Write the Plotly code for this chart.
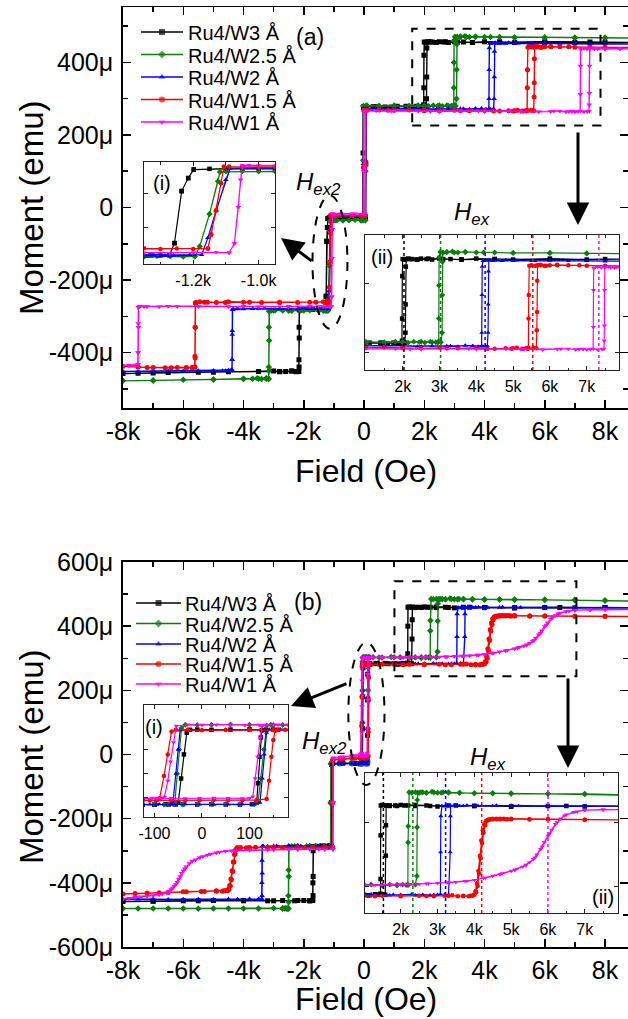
import plotly.graph_objects as go

# ---------------- data (field in Oe, moment in micro-emu) ----------------
names = ["Ru4/W3 Å", "Ru4/W2.5 Å", "Ru4/W2 Å", "Ru4/W1.5 Å", "Ru4/W1 Å"]
colors = ["#000000", "#0b7d0b", "#0000ff", "#ff0000", "#ff00ff"]
symbols = ["square", "diamond", "triangle-up", "circle", "triangle-down"]

x_tick_vals = [-8000, -6000, -4000, -2000, 0, 2000, 4000, 6000, 8000]
x_tick_text = ["-8k", "-6k", "-4k", "-2k", "0", "2k", "4k", "6k", "8k"]
ya_tick_vals = [-400, -200, 0, 200, 400]
ya_tick_text = ["-400μ", "-200μ", "0", "200μ", "400μ"]
yb_tick_vals = [-600, -400, -200, 0, 200, 400, 600]
yb_tick_text = ["-600μ", "-400μ", "-200μ", "0", "200μ", "400μ", "600μ"]
ins_ii_vals = [2000, 3000, 4000, 5000, 6000, 7000]
ins_ii_text = ["2k", "3k", "4k", "5k", "6k", "7k"]
ins_ai_vals = [-1200, -1000]
ins_ai_text = ["-1.2k", "-1.0k"]
ins_bi_vals = [-100, 0, 100]
ins_bi_text = ["-100", "0", "100"]

# exchange fields marked by dotted lines in insets (ii)
a_hex = [2035, 3030, 4240, 5535, 7330]
b_hex = [1530, 2330, 3220, 4200, 6000]

# ---- panel (a) loops ----
a_w3 = [(9000,455),(8000,456),(7000,455),(6000,457),(5000,455),(4500,456),(4000,457),(3600,455),(3300,456),(3000,457),(2800,455),(2650,456),(2500,457),(2380,455),(2260,456),(2150,457),(2060,455),(2000,456),(1990,420),(1985,330),(1980,283),(1940,278),(1860,277),(1750,279),(1600,277),(1400,278),(1100,279),(700,277),(300,278),(-20,278),(-30,150),(-40,-28),(-300,-28),(-600,-29),(-900,-27),(-950,-28),(-1000,-29),(-1050,-28),(-1100,-27),(-1150,-28),(-1198,-30),(-1215,-55),(-1235,-93),(-1257,-245),(-1272,-280),(-1300,-281),(-1330,-280),(-1360,-279),(-1500,-280),(-1700,-281),(-1900,-280),(-2050,-279),(-2120,-280),(-2145,-282),(-2150,-360),(-2155,-440),(-2165,-452),(-2250,-453),(-2400,-451),(-2600,-452),(-2800,-453),(-3000,-451),(-3500,-452),(-4500,-453),(-5500,-454),(-6500,-455),(-7500,-457),(-8000,-458),
        (-7000,-456),(-5000,-454),(-3500,-452),(-2800,-452),(-2400,-451),(-2250,-452),(-2170,-452),(-2160,-420),(-2155,-330),(-2150,-282),(-2050,-280),(-1800,-280),(-1500,-281),(-1272,-280),(-1257,-245),(-1235,-93),(-1215,-55),(-1198,-30),(-1100,-28),(-800,-28),(-400,-27),(-100,-28),(50,-28),(60,120),(70,278),(400,278),(900,277),(1400,279),(1800,278),(1950,277),(2030,278),(2060,279),(2075,300),(2080,360),(2085,440),(2095,456),(2200,456),(2400,455),(2700,457),(3100,456),(3600,455),(4500,456),(6000,455),(7500,456),(9000,455)]

a_w25 = [(9000,467),(8000,468),(7000,468),(6000,469),(5000,469),(4500,470),(4000,470),(3700,471),(3500,470),(3350,472),(3200,471),(3100,470),(3020,471),(2990,460),(2985,400),(2982,330),(2980,282),(2900,280),(2750,281),(2600,279),(2450,280),(2300,281),(2150,279),(2000,280),(1800,281),(1500,280),(1000,279),(500,280),(100,281),(-25,280),(-30,130),(-35,-35),(-300,-34),(-700,-36),(-950,-35),(-1000,-36),(-1050,-35),(-1100,-36),(-1118,-37),(-1124,-64),(-1150,-160),(-1180,-255),(-1195,-284),(-1230,-285),(-1270,-284),(-1310,-283),(-1350,-285),(-1500,-284),(-1800,-283),(-2100,-284),(-2400,-285),(-2700,-284),(-2950,-283),(-3080,-284),(-3140,-286),(-3150,-367),(-3155,-450),(-3165,-473),(-3250,-472),(-3400,-473),(-3550,-471),(-3700,-472),(-4000,-472),(-5000,-474),(-6000,-475),(-7000,-477),(-8000,-478),
         (-7000,-477),(-5000,-474),(-4000,-473),(-3500,-472),(-3250,-471),(-3170,-472),(-3160,-440),(-3155,-330),(-3150,-286),(-3000,-284),(-2500,-285),(-2000,-284),(-1500,-284),(-1195,-284),(-1180,-255),(-1150,-160),(-1124,-64),(-1118,-37),(-900,-35),(-500,-35),(-100,-36),(45,-35),(50,100),(55,280),(500,280),(1000,281),(1500,279),(2000,280),(2500,281),(2800,280),(2950,279),(3040,280),(3070,300),(3075,380),(3080,450),(3090,470),(3200,471),(3400,470),(3700,471),(4200,470),(5000,469),(6000,469),(7000,468),(8000,468),(9000,467)]

a_w2 = [(9000,451),(8000,452),(7000,452),(6000,453),(5500,452),(5000,453),(4800,454),(4600,453),(4450,452),(4350,454),(4250,453),(4180,452),(4160,440),(4155,380),(4150,300),(4145,272),(4050,271),(3900,272),(3700,273),(3500,271),(3200,272),(2800,272),(2400,271),(2000,272),(1500,273),(1000,272),(500,271),(100,272),(-20,272),(-25,120),(-30,-25),(-400,-25),(-800,-26),(-950,-25),(-1000,-24),(-1050,-26),(-1087,-27),(-1100,-60),(-1130,-150),(-1155,-230),(-1174,-279),(-1210,-279),(-1260,-280),(-1320,-279),(-1400,-278),(-1700,-279),(-2200,-280),(-2800,-279),(-3300,-278),(-3700,-279),(-4000,-280),(-4200,-279),(-4340,-280),(-4365,-282),(-4370,-340),(-4375,-420),(-4380,-448),(-4500,-449),(-4700,-450),(-5000,-451),(-5500,-450),(-6500,-451),(-7500,-452),(-8000,-452),
        (-7000,-452),(-6000,-451),(-5000,-450),(-4600,-450),(-4420,-449),(-4385,-448),(-4378,-420),(-4373,-350),(-4368,-282),(-4200,-280),(-3500,-279),(-2500,-280),(-1800,-279),(-1174,-279),(-1155,-230),(-1130,-150),(-1100,-60),(-1087,-27),(-800,-25),(-400,-24),(-100,-25),(50,-25),(55,130),(60,272),(600,272),(1500,272),(2500,271),(3300,272),(3900,272),(4200,271),(4300,272),(4320,300),(4325,360),(4330,430),(4340,453),(4450,453),(4700,452),(5100,453),(5600,452),(6500,452),(7500,451),(9000,451)]

a_w15 = [(9000,441),(8000,442),(7000,442),(6500,443),(6200,444),(6000,443),(5850,442),(5750,444),(5680,443),(5600,442),(5500,443),(5440,442),(5425,380),(5420,330),(5415,268),(5350,267),(5250,266),(5100,268),(4950,266),(4800,267),(4500,266),(4000,268),(3500,267),(3000,268),(2500,267),(2000,268),(1500,269),(1000,268),(500,269),(100,268),(-15,268),(-20,110),(-25,-22),(-400,-23),(-800,-21),(-950,-22),(-1000,-23),(-1050,-22),(-1090,-21),(-1106,-22),(-1115,-70),(-1130,-150),(-1145,-220),(-1155,-261),(-1200,-262),(-1250,-261),(-1300,-262),(-1350,-260),(-1600,-261),(-2200,-262),(-2800,-261),(-3400,-262),(-4000,-261),(-4500,-260),(-4900,-262),(-5200,-261),(-5450,-260),(-5570,-262),(-5595,-263),(-5600,-330),(-5605,-415),(-5610,-440),(-5700,-441),(-5900,-442),(-6200,-441),(-6600,-442),(-7000,-441),(-7500,-440),(-8000,-438),
         (-7200,-441),(-6400,-442),(-5900,-441),(-5700,-441),(-5620,-440),(-5612,-410),(-5606,-330),(-5600,-263),(-5300,-261),(-4600,-262),(-3800,-261),(-2800,-262),(-1800,-261),(-1155,-261),(-1145,-220),(-1130,-150),(-1115,-70),(-1106,-22),(-800,-22),(-400,-23),(-100,-22),(50,-22),(55,120),(60,268),(800,268),(2000,267),(3200,267),(4300,266),(5000,267),(5400,266),(5550,268),(5630,267),(5645,305),(5650,344),(5655,410),(5665,443),(5750,443),(5900,442),(6200,443),(6800,443),(7500,442),(9000,441)]

a_w1 = [(9000,437),(8500,438),(8000,437),(7800,439),(7650,438),(7500,440),(7400,438),(7300,439),(7220,438),(7190,437),(7185,390),(7180,312),(7175,266),(7100,265),(7000,264),(6900,266),(6800,265),(6700,264),(6500,266),(6200,265),(5800,264),(5300,265),(4800,266),(4000,265),(3200,266),(2500,265),(1800,266),(1000,266),(400,267),(-10,266),(-15,100),(-20,-18),(-400,-17),(-800,-18),(-950,-19),(-1000,-18),(-1030,-17),(-1050,-18),(-1055,-60),(-1062,-140),(-1074,-246),(-1090,-273),(-1130,-272),(-1200,-273),(-1270,-274),(-1350,-273),(-1800,-272),(-2500,-273),(-3500,-274),(-4500,-273),(-5500,-272),(-6200,-273),(-6800,-274),(-7200,-273),(-7450,-272),(-7485,-275),(-7490,-330),(-7495,-400),(-7500,-432),(-7600,-434),(-7800,-435),(-8000,-436),
        (-7800,-436),(-7600,-435),(-7510,-434),(-7502,-400),(-7496,-320),(-7490,-275),(-7300,-273),(-6500,-272),(-5500,-273),(-4000,-272),(-2500,-273),(-1500,-273),(-1090,-273),(-1074,-246),(-1062,-140),(-1055,-60),(-1050,-18),(-700,-18),(-300,-17),(40,-18),(45,110),(50,266),(900,266),(2200,265),(3800,266),(5200,265),(6300,266),(6900,265),(7300,264),(7420,265),(7470,266),(7475,283),(7480,315),(7485,390),(7495,438),(7600,440),(7750,438),(8000,437),(8500,438),(9000,437)]

# ---- panel (b) loops ----
b_w3 = [(9000,457),(8000,458),(7000,457),(6000,458),(5000,457),(4000,458),(3500,459),(3000,457),(2700,459),(2400,458),(2200,459),(2000,460),(1850,459),(1700,458),(1600,459),(1500,460),(1460,459),(1455,400),(1452,314),(1450,285),(1400,283),(1300,284),(1150,282),(1000,283),(700,284),(400,283),(200,282),(150,283),(100,284),(60,283),(20,282),(-10,283),(-25,282),(-32,270),(-38,180),(-44,80),(-50,-20),(-55,-28),(-75,-27),(-100,-28),(-125,-29),(-300,-28),(-700,-27),(-1050,-28),(-1080,-30),(-1085,-150),(-1090,-284),(-1200,-286),(-1400,-285),(-1600,-286),(-1680,-287),(-1688,-380),(-1692,-440),(-1700,-455),(-1800,-456),(-2000,-455),(-2300,-456),(-2700,-455),(-3200,-456),(-4000,-456),(-5000,-455),(-6000,-456),(-7000,-457),(-8000,-458),
        (-7000,-457),(-5500,-456),(-4000,-455),(-3000,-456),(-2200,-455),(-1800,-456),(-1705,-455),(-1696,-400),(-1690,-300),(-1685,-287),(-1400,-286),(-1150,-285),(-1085,-284),(-1080,-150),(-1075,-30),(-800,-28),(-400,-27),(-130,-28),(-100,-29),(-70,-28),(-40,-27),(-10,-28),(20,-27),(50,-28),(80,-29),(105,-27),(115,-20),(118,60),(121,170),(124,250),(126,280),(135,283),(160,282),(190,283),(400,284),(800,283),(1100,282),(1350,283),(1500,284),(1580,283),(1595,360),(1600,420),(1605,459),(1700,459),(1900,458),(2100,459),(2400,460),(2800,458),(3300,459),(4000,458),(5000,457),(6500,458),(8000,458),(9000,457)]

b_w25 = [(9000,478),(8000,480),(7000,482),(6000,482),(5000,483),(4500,483),(4000,483),(3600,484),(3300,484),(3150,485),(3000,484),(2850,486),(2700,484),(2600,485),(2500,484),(2400,485),(2300,484),(2230,485),(2205,418),(2200,386),(2195,303),(2150,302),(2050,303),(1900,301),(1700,303),(1500,302),(1200,303),(900,304),(600,302),(300,303),(150,302),(100,303),(60,304),(20,303),(-10,302),(-35,303),(-43,290),(-48,200),(-52,100),(-57,-20),(-60,-27),(-80,-28),(-100,-27),(-125,-26),(-400,-27),(-800,-28),(-1080,-27),(-1100,-29),(-1105,-150),(-1110,-285),(-1300,-286),(-1600,-285),(-1900,-286),(-2200,-287),(-2400,-286),(-2490,-288),(-2495,-380),(-2500,-460),(-2510,-480),(-2550,-481),(-2600,-479),(-2650,-480),(-2700,-481),(-3000,-479),(-4000,-480),(-5000,-480),(-6000,-480),(-7000,-480),(-8000,-480),
         (-7500,-480),(-6500,-480),(-5500,-481),(-4500,-480),(-3500,-480),(-2700,-479),(-2560,-480),(-2515,-480),(-2508,-440),(-2503,-360),(-2498,-288),(-2300,-286),(-1800,-285),(-1300,-286),(-1110,-285),(-1100,-150),(-1095,-29),(-800,-27),(-400,-28),(-130,-27),(-100,-26),(-70,-27),(-40,-28),(-10,-27),(20,-26),(50,-27),(80,-28),(110,-27),(118,-20),(124,80),(130,200),(136,300),(145,303),(170,302),(190,303),(500,302),(1000,303),(1500,301),(1900,303),(2200,302),(2400,303),(2440,320),(2445,416),(2450,470),(2460,484),(2550,485),(2700,484),(2900,485),(3100,484),(3300,485),(3600,484),(4000,483),(4500,483),(5000,482),(6000,482),(7000,481),(8000,480),(9000,478)]

b_w2 = [(9000,457),(8000,458),(7000,457),(6000,458),(5000,459),(4500,458),(4000,459),(3700,458),(3500,459),(3300,458),(3200,457),(3120,458),(3090,438),(3085,367),(3080,284),(3000,283),(2800,282),(2600,283),(2300,284),(2000,283),(1700,282),(1300,283),(900,284),(500,283),(200,282),(150,283),(100,284),(50,283),(0,282),(-30,283),(-46,280),(-50,200),(-55,100),(-61,-20),(-65,-28),(-90,-27),(-110,-28),(-125,-27),(-400,-28),(-800,-27),(-1040,-28),(-1060,-30),(-1065,-150),(-1070,-284),(-1300,-285),(-1700,-286),(-2100,-285),(-2500,-284),(-2900,-285),(-3200,-286),(-3350,-285),(-3375,-287),(-3380,-370),(-3385,-440),(-3390,-450),(-3500,-451),(-3800,-450),(-4200,-451),(-5000,-452),(-6000,-451),(-7000,-450),(-8000,-451),
        (-7500,-451),(-6500,-452),(-5500,-451),(-4500,-450),(-3800,-451),(-3500,-450),(-3395,-451),(-3390,-400),(-3386,-330),(-3382,-287),(-3000,-285),(-2200,-284),(-1500,-285),(-1070,-284),(-1060,-150),(-1055,-30),(-700,-28),(-300,-27),(-125,-28),(-95,-29),(-65,-28),(-35,-27),(-5,-28),(25,-29),(55,-28),(85,-27),(110,-28),(122,-20),(127,80),(131,180),(136,270),(142,283),(165,284),(190,283),(600,283),(1200,284),(1800,283),(2400,282),(2900,283),(3200,284),(3300,283),(3345,367),(3350,438),(3355,458),(3450,459),(3600,458),(3800,459),(4100,458),(4600,459),(5200,458),(6000,457),(7000,458),(8000,458),(9000,457)]

b_w15 = [(9000,430),(8000,431),(7000,431),(6000,432),(5500,432),(5000,433),(4900,432),(4800,433),(4700,432),(4600,433),(4500,432),(4420,431),(4370,430),(4330,428),(4290,420),(4250,405),(4210,385),(4170,355),(4130,325),(4090,300),(4050,288),(4000,283),(3950,281),(3850,280),(3700,281),(3550,280),(3400,282),(3200,281),(2900,280),(2500,281),(2000,280),(1500,281),(1000,282),(500,281),(200,280),(150,281),(100,282),(50,281),(0,280),(-30,281),(-55,282),(-64,275),(-72,180),(-80,90),(-89,-2),(-95,-10),(-110,-11),(-125,-10),(-400,-12),(-800,-14),(-1020,-15),(-1040,-17),(-1045,-150),(-1050,-288),(-1300,-290),(-1700,-289),(-2200,-290),(-2700,-291),(-3200,-290),(-3600,-289),(-3900,-291),(-4100,-290),(-4200,-291),(-4240,-295),(-4280,-310),(-4320,-335),(-4360,-365),(-4400,-390),(-4440,-410),(-4480,-420),(-4520,-424),(-4600,-425),(-4700,-426),(-4900,-425),(-5300,-427),(-5900,-428),(-6500,-430),(-7200,-432),(-8000,-435),
         (-7600,-433),(-6800,-431),(-6000,-428),(-5400,-427),(-4900,-426),(-4650,-425),(-4540,-424),(-4500,-420),(-4460,-408),(-4420,-388),(-4380,-362),(-4340,-335),(-4300,-312),(-4260,-297),(-4210,-291),(-3800,-290),(-3000,-289),(-2000,-290),(-1300,-289),(-1050,-288),(-1040,-150),(-1035,-17),(-700,-14),(-300,-12),(-125,-10),(-95,-9),(-65,-10),(-35,-11),(-5,-10),(25,-9),(55,-10),(85,-11),(115,-10),(136,-5),(141,70),(146,170),(150,240),(154,278),(160,281),(175,282),(190,281),(600,281),(1300,280),(2000,281),(2700,280),(3300,281),(3700,280),(3900,281),(3980,283),(4030,290),(4070,305),(4110,330),(4150,360),(4190,390),(4230,410),(4270,422),(4310,428),(4360,431),(4420,432),(4500,433),(4600,432),(4700,433),(4850,432),(5000,432),(5500,432),(6000,432),(7000,431),(8000,431),(9000,430)]

b_w1 = [(9000,452),(8000,452),(7500,451),(7000,450),(6800,447),(6500,441),(6350,433),(6200,422),(6100,411),(6000,399),(5900,386),(5800,373),(5700,362),(5600,353),(5500,347),(5400,342),(5300,338),(5150,334),(5000,330),(4750,325),(4500,320),(4250,316),(4000,312),(3750,310),(3500,308),(3250,307),(3000,306),(2750,305),(2500,304),(2250,304),(2000,303),(1750,303),(1500,302),(1250,302),(1000,302),(600,302),(300,303),(180,302),(150,303),(120,302),(90,301),(60,302),(30,303),(0,302),(-30,303),(-54,298),(-60,230),(-66,150),(-72,70),(-79,4),(-85,-2),(-105,-1),(-125,-2),(-400,-4),(-800,-8),(-1000,-10),(-1020,-12),(-1025,-150),(-1030,-295),(-1300,-296),(-1800,-295),(-2500,-296),(-3200,-297),(-3800,-298),(-4300,-299),(-4600,-301),(-4900,-306),(-5200,-313),(-5450,-321),(-5700,-333),(-5900,-350),(-6000,-362),(-6100,-380),(-6200,-398),(-6300,-410),(-6400,-421),(-6550,-431),(-6800,-437),(-7200,-441),(-7600,-445),(-8000,-450),
        (-7800,-448),(-7400,-443),(-7000,-440),(-6700,-435),(-6500,-428),(-6350,-416),(-6250,-405),(-6150,-388),(-6050,-370),(-5950,-356),(-5800,-340),(-5600,-328),(-5350,-318),(-5100,-310),(-4800,-304),(-4400,-300),(-3800,-298),(-3000,-297),(-2200,-296),(-1500,-295),(-1030,-295),(-1020,-150),(-1015,-12),(-700,-7),(-300,-3),(-125,-2),(-95,-1),(-65,-2),(-35,-3),(-5,-2),(25,-1),(55,-2),(85,-3),(100,-2),(107,5),(112,80),(117,170),(122,250),(126,295),(135,302),(160,303),(185,302),(600,303),(1300,302),(2000,303),(2700,305),(3300,307),(3800,310),(4300,316),(4700,323),(5100,332),(5400,341),(5650,356),(5850,378),(6050,404),(6250,426),(6450,439),(6700,446),(7000,450),(7500,451),(8000,452),(9000,452)]

loops_a = [a_w3, a_w25, a_w2, a_w15, a_w1]
loops_b = [b_w3, b_w25, b_w2, b_w15, b_w1]

# ---------------- layout helpers ----------------
W, H = 628, 1019
FONT = "Liberation Sans, Arial, sans-serif"


def fx(p):
    return p / W


def fy(p):
    return 1 - p / H


fig = go.Figure()


def add_loops(loops, axes):
    for k, pts in enumerate(loops):
        hs = [p[0] for p in pts]
        ms = [p[1] for p in pts]
        for j, (xa, ya) in enumerate(axes):
            main = j == 0
            fig.add_trace(go.Scatter(
                x=hs, y=ms, mode="lines+markers", name=names[k],
                xaxis=xa, yaxis=ya, showlegend=False,
                line=dict(color=colors[k], width=1.4 if main else 1.2),
                marker=dict(symbol=symbols[k], size=5 if main else 4.5,
                            color=colors[k], line=dict(width=0)),
                hoverinfo="skip"))


add_loops(loops_a, [("x", "y"), ("x2", "y2"), ("x3", "y3")])
add_loops(loops_b, [("x4", "y4"), ("x5", "y5"), ("x6", "y6")])

# legend keys drawn on a hidden overlay axis measured in page pixels
LEG_A = dict(rows=[32, 54.5, 77, 99.5, 122], x0=141, x1=183, tx=186)
LEG_B = dict(rows=[603, 623.5, 644, 664, 684], x0=136, x1=181, tx=183)
for leg in (LEG_A, LEG_B):
    for k, yy in enumerate(leg["rows"]):
        fig.add_trace(go.Scatter(
            x=[leg["x0"], (leg["x0"] + leg["x1"]) / 2, leg["x1"]], y=[yy, yy, yy],
            mode="lines+markers", xaxis="x7", yaxis="y7", showlegend=False,
            line=dict(color=colors[k], width=1.6),
            marker=dict(symbol=symbols[k], size=[0, 6, 0], color=colors[k], line=dict(width=0)),
            hoverinfo="skip", cliponaxis=False))

tickfont_main = dict(family=FONT, size=25, color="black")
tickfont_ins = dict(family=FONT, size=16, color="black")


def main_x(anchor):
    return dict(domain=[fx(123), 1.0], anchor=anchor, range=[-8000, 8763], automargin=False,
                tickmode="array", tickvals=x_tick_vals, ticktext=x_tick_text,
                ticks="inside", ticklen=8, tickwidth=1.5, tickcolor="black",
                minor=dict(ticks="inside", ticklen=5, tickwidth=1.5, tickcolor="black",
                           tick0=0, dtick=1000, showgrid=False),
                showline=True, linewidth=1.8, linecolor="black", mirror="ticks",
                showgrid=False, zeroline=False, tickfont=tickfont_main,
                ticklabelstandoff=0)


def main_y(top, bottom, anchor, rng, vals, text):
    return dict(domain=[fy(bottom), fy(top)], anchor=anchor, range=rng, automargin=False,
                tickmode="array", tickvals=vals, ticktext=text,
                ticks="inside", ticklen=8, tickwidth=1.5, tickcolor="black",
                minor=dict(ticks="inside", ticklen=5, tickwidth=1.5, tickcolor="black",
                           tick0=0, dtick=100, showgrid=False),
                showline=True, linewidth=1.8, linecolor="black", mirror="ticks",
                showgrid=False, zeroline=False, tickfont=tickfont_main,
                ticklabelstandoff=3)


def ins_x(left, right, anchor, rng, vals, text, minor_dtick):
    return dict(domain=[fx(left), fx(right)], anchor=anchor, range=rng, automargin=False,
                tickmode="array", tickvals=vals, ticktext=text,
                ticks="inside", ticklen=4, tickwidth=1, tickcolor="#222",
                minor=dict(ticks="inside", ticklen=2.5, tickwidth=1, tickcolor="#222",
                           tick0=0, dtick=minor_dtick, showgrid=False),
                showline=True, linewidth=1.2, linecolor="#222", mirror="ticks",
                showgrid=False, zeroline=False, tickfont=tickfont_ins,
                ticklabelstandoff=2)


def ins_y(top, bottom, anchor, rng, vals):
    return dict(domain=[fy(bottom), fy(top)], anchor=anchor, range=rng, automargin=False,
                tickmode="array", tickvals=vals, showticklabels=False,
                ticks="inside", ticklen=4, tickwidth=1, tickcolor="#222",
                showline=True, linewidth=1.2, linecolor="#222", mirror="ticks",
                showgrid=False, zeroline=False)


layout = dict(
    width=W, height=H, margin=dict(l=0, r=0, t=0, b=0, autoexpand=False),
    paper_bgcolor="white", plot_bgcolor="rgba(0,0,0,0)",
    font=dict(family=FONT, color="black"),
    showlegend=False,
    xaxis=main_x("y"),
    yaxis=main_y(7.3, 407.7, "x", [-552, 552], ya_tick_vals, ya_tick_text),
    xaxis2=ins_x(144, 275, "y2", [-1350, -950], ins_ai_vals, ins_ai_text, 100),
    yaxis2=ins_y(162, 264, "x2", [-306, -8], [-200, -100]),
    xaxis3=ins_x(365, 619, "y3", [976, 7878], ins_ii_vals, ins_ii_text, 500),
    yaxis3=ins_y(235, 370, "x3", [221, 507], [258, 405]),
    xaxis4=main_x("y4"),
    yaxis4=main_y(562, 947, "x4", [-600, 600], yb_tick_vals, yb_tick_text),
    xaxis5=ins_x(144, 288, "y5", [-122, 181], ins_bi_vals, ins_bi_text, 50),
    yaxis5=ins_y(705, 817, "x5", [-80, 385], [0, 100, 200]),
    xaxis6=ins_x(365, 618, "y6", [1030, 7904], ins_ii_vals, ins_ii_text, 500),
    yaxis6=ins_y(773, 913, "x6", [247, 523], [300, 425]),
    xaxis7=dict(domain=[0, 1], range=[0, W], visible=False, anchor="y7", fixedrange=True),
    yaxis7=dict(domain=[0, 1], range=[H, 0], visible=False, anchor="x7", fixedrange=True),
)
fig.update_layout(**layout)

shapes = []
# white backgrounds under the insets (drawn in inset subplot layer)
for xr, yr, x0, x1, y0, y1 in [("x2", "y2", -1350, -950, -306, -8),
                                ("x3", "y3", 976, 7878, 221, 507),
                                ("x5", "y5", -122, 181, -80, 385),
                                ("x6", "y6", 1030, 7904, 247, 523)]:
    shapes.append(dict(type="rect", xref=xr, yref=yr, x0=x0, x1=x1, y0=y0, y1=y1,
                       fillcolor="white", line=dict(width=0), layer="below"))

# dotted exchange-field lines in insets (ii)
for k in range(5):
    shapes.append(dict(type="line", xref="x3", yref="y3 domain", x0=a_hex[k], x1=a_hex[k],
                       y0=0, y1=1, line=dict(color=colors[k], width=1.5, dash="dot"), layer="above"))
    shapes.append(dict(type="line", xref="x6", yref="y6 domain", x0=b_hex[k], x1=b_hex[k],
                       y0=0, y1=1, line=dict(color=colors[k], width=1.5, dash="dot"), layer="above"))

# dashed rectangles and ellipses
shapes.append(dict(type="rect", xref="x", yref="y", x0=1600, x1=7850, y0=226, y1=493,
                   line=dict(color="black", width=2, dash="dash"), layer="above"))
shapes.append(dict(type="circle", xref="x", yref="y", x0=-1710, x1=-550, y0=-334, y1=33,
                   line=dict(color="black", width=2, dash="dash"), layer="above"))
shapes.append(dict(type="rect", xref="x4", yref="y4", x0=1010, x1=7050, y0=244, y1=540,
                   line=dict(color="black", width=2, dash="dash"), layer="above"))
shapes.append(dict(type="circle", xref="x4", yref="y4", x0=-520, x1=680, y0=-95, y1=349,
                   line=dict(color="black", width=2, dash="dash"), layer="above"))
fig.update_layout(shapes=shapes)

ann = []


def text(xp, yp, s, size, angle=0, xanchor="center"):
    ann.append(dict(xref="paper", yref="paper", x=fx(xp), y=fy(yp), text=s, showarrow=False,
                    font=dict(family=FONT, size=size, color="black"), textangle=angle,
                    xanchor=xanchor, yanchor="middle"))


for leg in (LEG_A, LEG_B):
    for k, yy in enumerate(leg["rows"]):
        text(leg["tx"], yy + 1, names[k], 20, xanchor="left")

text(310, 37, "(a)", 23)
text(318, 183, "<i>H</i><sub><i>ex2</i></sub>", 24)
text(472, 213, "<i>H</i><sub><i>ex</i></sub>", 24)
text(162, 183, "(i)", 20)
text(382, 257, "(ii)", 20)
text(308, 602, "(b)", 23)
text(324, 742, "<i>H</i><sub><i>ex2</i></sub>", 24)
text(488, 758, "<i>H</i><sub><i>ex</i></sub>", 24)
text(154, 727, "(i)", 20)
text(603, 897, "(ii)", 20)
text(31, 208, "Moment (emu)", 33, -90)
text(31, 757, "Moment (emu)", 33, -90)
text(366, 471, "Field (Oe)", 32)
text(366, 999, "Field (Oe)", 32)


def arrow(xp, yp, axp, ayp):
    ann.append(dict(xref="paper", yref="paper", x=fx(xp), y=fy(yp), ax=axp - xp, ay=ayp - yp,
                    axref="pixel", ayref="pixel", text="", showarrow=True,
                    arrowhead=2, arrowsize=1.5, arrowwidth=3, arrowcolor="black"))


arrow(281, 238, 313, 262)
arrow(578, 225, 578, 131)
arrow(291, 706, 348, 683)
arrow(568, 768, 568, 677)
fig.update_layout(annotations=ann)

fig.write_html("out.html",
               config={"displayModeBar": False, "staticPlot": True},
               post_script="document.body.style.margin='0px';document.body.style.padding='0px';"
                           "document.body.style.overflow='hidden';")
